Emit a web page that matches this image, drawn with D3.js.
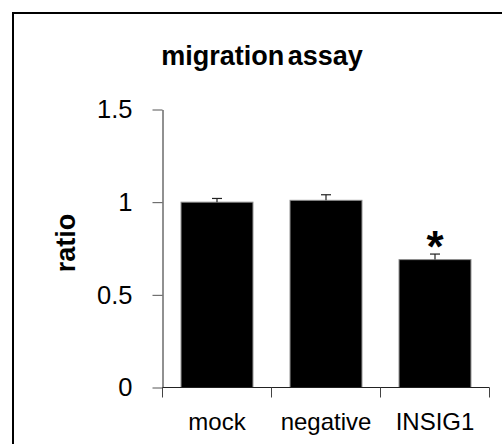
<!DOCTYPE html>
<html>
<head>
<meta charset="utf-8">
<script src="https://cdn.jsdelivr.net/npm/d3@7"></script>
<style>
  html, body { margin: 0; padding: 0; background: #fff; }
  svg { display: block; }
  text { font-family: "Liberation Sans", Arial, sans-serif; fill: #000; }
</style>
</head>
<body>
<svg id="chart" width="502" height="444"></svg>
<script>
const categories = ["mock", "negative", "INSIG1"];
const values = [1.00, 1.01, 0.69];
const errors = [0.02, 0.03, 0.03];
const significance = ["", "", "*"];
const yTicks = [0, 0.5, 1, 1.5];
const yTickLabels = ["0", "0.5", "1", "1.5"];
const title = "migration assay";
const yLabel = "ratio";

const svg = d3.select("#chart");

// frame (top and left edges visible)
svg.append("rect")
  .attr("x", 13).attr("y", 13)
  .attr("width", 600).attr("height", 600)
  .attr("fill", "none").attr("stroke", "#000").attr("stroke-width", 2);

const plotLeft = 162.5, plotRight = 489.5, plotTop = 109.5, plotBottom = 387.5;

const x = d3.scaleBand().domain(categories).range([plotLeft, plotRight])
  .paddingInner(0.34).paddingOuter(0.17);
const y = d3.scaleLinear().domain([0, 1.5]).range([plotBottom, plotTop]);

// bars
svg.append("g").selectAll("rect").data(categories).join("rect")
  .attr("x", d => x(d))
  .attr("y", (d, i) => y(values[i]))
  .attr("width", x.bandwidth())
  .attr("height", (d, i) => y(0) - y(values[i]))
  .attr("fill", "#000")
  .attr("stroke", "#8c8c8c")
  .attr("stroke-width", 1);

// error bars (upper only)
const eg = svg.append("g").attr("stroke", "#222").attr("stroke-width", 1.2);
categories.forEach((c, i) => {
  const cx = x(c) + x.bandwidth() / 2;
  eg.append("line").attr("x1", cx).attr("x2", cx)
    .attr("y1", y(values[i])).attr("y2", y(values[i] + errors[i]));
  eg.append("line").attr("x1", cx - 5).attr("x2", cx + 5)
    .attr("y1", y(values[i] + errors[i])).attr("y2", y(values[i] + errors[i]));
});

// y axis
const yAxis = d3.axisLeft(y).tickValues(yTicks)
  .tickFormat((d, i) => yTickLabels[i]).tickSize(10).tickPadding(20).tickSizeOuter(0);
const gy = svg.append("g").attr("transform", `translate(${plotLeft},0)`).call(yAxis);
gy.select(".domain").attr("stroke", "#222");
gy.selectAll(".tick line").attr("stroke", "#555");
gy.selectAll(".tick text")
  .style("font-family", "'Liberation Sans', Arial, sans-serif")
  .style("font-size", "25.5px").attr("fill", "#000");

// x axis line
svg.append("line").attr("x1", plotLeft).attr("x2", plotRight)
  .attr("y1", y(0)).attr("y2", y(0)).attr("stroke", "#222");

// x category boundary ticks
const boundaries = [plotLeft].concat(
  categories.slice(1).map(c => x(c) - x.step() * x.paddingInner() / 2),
  [plotRight]);
svg.append("g").selectAll("line").data(boundaries).join("line")
  .attr("x1", d => d).attr("x2", d => d)
  .attr("y1", y(0)).attr("y2", y(0) + 10)
  .attr("stroke", "#444");

// x labels
svg.append("g").selectAll("text").data(categories).join("text")
  .attr("x", d => x(d) + x.bandwidth() / 2)
  .attr("y", 430)
  .attr("text-anchor", "middle")
  .style("font-size", "24px")
  .text(d => d);

// significance markers
svg.append("g").selectAll("text").data(categories).join("text")
  .attr("x", d => x(d) + x.bandwidth() / 2)
  .attr("y", (d, i) => y(values[i] + errors[i]) + 8)
  .attr("text-anchor", "middle")
  .style("font-size", "44px")
  .style("font-weight", "bold")
  .text((d, i) => significance[i]);

// title
svg.append("text")
  .attr("x", 262).attr("y", 65)
  .attr("text-anchor", "middle")
  .style("font-size", "27px")
  .style("font-weight", "bold")
  .style("word-spacing", "-4px")
  .text(title);

// y label
svg.append("text")
  .attr("transform", "translate(75,243) rotate(-90)")
  .attr("text-anchor", "middle")
  .style("font-size", "27px")
  .style("font-weight", "bold")
  .text(yLabel);
</script>
</body>
</html>
